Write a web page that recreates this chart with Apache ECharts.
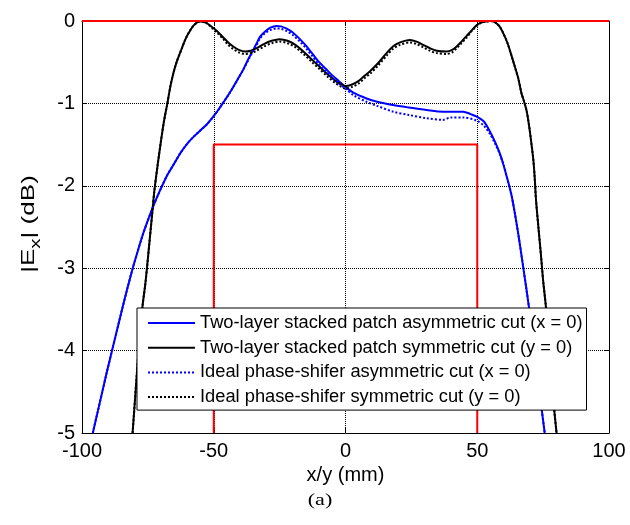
<!DOCTYPE html>
<html>
<head>
<meta charset="utf-8">
<script src="https://cdn.jsdelivr.net/npm/echarts@6/dist/echarts.min.js"></script>
<style>html,body{margin:0;padding:0;background:#fff;}#c{width:630px;height:525px;}</style>
</head>
<body>
<div id="c"></div>
<script>
// ---- data (x in mm, |Ex| in dB) ----
const legendNames = [
  'Two-layer stacked patch asymmetric cut (x = 0)',
  'Two-layer stacked patch symmetric cut (y = 0)',
  'Ideal phase-shifer asymmetric cut (x = 0)',
  'Ideal phase-shifer symmetric cut (y = 0)'
];
const xTicks = [-100, -50, 0, 50, 100];
const yTicks = [-5, -4, -3, -2, -1, 0];

const stackedAsym = [
  [-95.9,-5],[-94.1,-4.75],[-92.3,-4.5],[-90.5,-4.25],[-88.6,-4.0],[-86.7,-3.75],[-84.8,-3.5],[-82.9,-3.26],
  [-81.0,-3.03],[-79.0,-2.81],[-77.0,-2.6],[-74.9,-2.41],[-72.6,-2.22],[-70.3,-2.05],[-67.8,-1.88],[-65.2,-1.74],
  [-62.6,-1.6],[-60.1,-1.49],[-57.5,-1.4],[-54.8,-1.32],[-52.5,-1.25],[-50.4,-1.17],[-48.3,-1.08],[-46.4,-0.99],
  [-44.5,-0.9],[-42.6,-0.8],[-40.6,-0.69],[-38.8,-0.59],[-37,-0.47],[-35,-0.35],
  [-33.7,-0.27],[-32.4,-0.19],[-30.6,-0.13],[-28.5,-0.08],[-26.1,-0.06],[-24.5,-0.065],[-22.5,-0.09],[-20,-0.14],
  [-17.3,-0.22],[-15,-0.3],[-12.5,-0.4],[-10,-0.5],[-7.5,-0.58],[-5,-0.66],[-2.5,-0.73],[0,-0.8],
  [3,-0.87],[8,-0.94],[12,-0.98],[18,-1.02],[24,-1.05],[30.8,-1.08],[37,-1.1],[44.7,-1.1],
  [47.5,-1.13],[49.8,-1.16],[52.5,-1.22],[54.8,-1.34],[56.8,-1.47],[58.6,-1.61],[60,-1.75],[61.2,-1.89],
  [62.2,-2.01],[63.1,-2.13],[64.2,-2.32],[65.3,-2.53],[66.4,-2.76],[67.5,-3.0],[68.6,-3.24],[69.6,-3.47],
  [70.6,-3.72],[71.6,-3.98],[72.6,-4.24],[73.6,-4.5],[74.6,-4.75],[75.6,-5]
];
const stackedSym = [
  [-80.8,-5],[-79.9,-4.6],[-79,-4.2],[-78,-3.8],[-77,-3.45],[-76,-3.2],[-75.2,-2.95],[-74.3,-2.65],
  [-73.4,-2.35],[-72.5,-2.05],[-71.3,-1.75],[-70,-1.45],[-68.8,-1.2],[-67.6,-1.0],[-66.5,-0.8],[-65.3,-0.63],
  [-64,-0.49],[-62.2,-0.34],[-61,-0.24],[-59.6,-0.15],[-57.5,-0.05],[-55.2,-0.005],[-53,-0.02],[-50.8,-0.07],
  [-48.5,-0.13],[-46.4,-0.2],[-44.5,-0.26],[-42.6,-0.31],[-40.5,-0.35],[-38.1,-0.37],[-36,-0.36],[-33.7,-0.33],
  [-31,-0.28],[-28,-0.24],[-25,-0.22],[-22,-0.24],[-19,-0.29],[-16,-0.37],[-13,-0.46],[-10,-0.55],
  [-7,-0.64],[-4,-0.72],[-2,-0.76],[0,-0.79],[2.5,-0.77],[4.9,-0.73],[7,-0.67],[9.3,-0.61],
  [12.4,-0.51],[15.6,-0.39],[18,-0.31],[20.7,-0.26],[24.5,-0.23],[27,-0.25],[29.5,-0.29],[32,-0.33],
  [34.6,-0.36],[38.4,-0.37],[40.5,-0.35],[42.2,-0.31],[44,-0.25],[46,-0.18],[48,-0.11],[49.8,-0.05],
  [51.5,-0.02],[53.6,-0.005],[55,0],[56.5,-0.01],[58.3,-0.06],[59.9,-0.15],[61.5,-0.27],[63,-0.42],
  [64.5,-0.58],[65.6,-0.7],[66.8,-0.88],[67.8,-0.98],[68.8,-1.1],[69.8,-1.3],[70.6,-1.5],[71.3,-1.69],
  [71.8,-1.9],[72.3,-2.17],[73.2,-2.5],[74.2,-2.85],[75,-3.15],[76,-3.45],[77,-3.85],[78,-4.25],
  [79,-4.65],[80.1,-5]
];
const idealAsym = [
  [-95.9,-5],[-94.1,-4.75],[-92.3,-4.5],[-90.5,-4.25],[-88.6,-4.0],[-86.7,-3.75],[-84.8,-3.5],[-82.9,-3.26],
  [-81.0,-3.03],[-79.0,-2.81],[-77.0,-2.6],[-74.9,-2.41],[-72.6,-2.22],[-70.3,-2.05],[-67.8,-1.88],[-65.2,-1.74],
  [-62.6,-1.6],[-60.1,-1.49],[-57.5,-1.4],[-54.8,-1.32],[-52.5,-1.25],[-50.4,-1.17],[-48.3,-1.08],[-46.4,-0.99],
  [-44.5,-0.9],[-42.6,-0.8],[-40.6,-0.69],[-38.8,-0.59],[-37,-0.48],[-35,-0.36],
  [-33.7,-0.29],[-32.4,-0.21],[-30.6,-0.15],[-28.5,-0.11],[-26.1,-0.09],[-24.5,-0.095],[-22.5,-0.12],[-20,-0.17],
  [-17.3,-0.25],[-15,-0.33],[-12.5,-0.43],[-10,-0.53],[-7.5,-0.61],[-5,-0.69],[-2.5,-0.76],[0,-0.82],
  [3,-0.9],[8,-0.98],[12,-1.03],[18,-1.1],[24,-1.14],[30.8,-1.18],[37,-1.2],[40,-1.17],
  [44.7,-1.17],[49.8,-1.21],[52.5,-1.27],[54.8,-1.37],[56.8,-1.49],[58.6,-1.62],[60,-1.75],[61.2,-1.89],
  [62.2,-2.01],[63.1,-2.13],[64.2,-2.32],[65.3,-2.53],[66.4,-2.76],[67.5,-3.0],[68.6,-3.24],[69.6,-3.47],
  [70.6,-3.72],[71.6,-3.98],[72.6,-4.24],[73.6,-4.5],[74.6,-4.75],[75.6,-5]
];
const idealSym = [
  [-80.8,-5],[-79.9,-4.6],[-79,-4.2],[-78,-3.8],[-77,-3.45],[-76,-3.2],[-75.2,-2.95],[-74.3,-2.65],
  [-73.4,-2.35],[-72.5,-2.05],[-71.3,-1.75],[-70,-1.45],[-68.8,-1.2],[-67.6,-1.0],[-66.5,-0.8],[-65.3,-0.63],
  [-64,-0.49],[-62.2,-0.34],[-61,-0.24],[-59.6,-0.15],[-57.5,-0.05],[-55.2,-0.005],[-53,-0.02],[-50.8,-0.08],
  [-48.5,-0.15],[-46.4,-0.22],[-44.5,-0.29],[-42.6,-0.34],[-40.5,-0.38],[-38.1,-0.4],[-36,-0.39],[-33.7,-0.36],
  [-31,-0.31],[-28,-0.27],[-25,-0.25],[-22,-0.27],[-19,-0.32],[-16,-0.4],[-13,-0.49],[-10,-0.58],
  [-7,-0.67],[-4,-0.75],[-2,-0.79],[0,-0.82],[2.5,-0.8],[4.9,-0.76],[7,-0.7],[9.3,-0.64],
  [12.4,-0.54],[15.6,-0.42],[18,-0.34],[20.7,-0.29],[24.5,-0.26],[27,-0.28],[29.5,-0.32],[32,-0.36],
  [34.6,-0.39],[38.4,-0.4],[40.5,-0.38],[42.2,-0.33],[44,-0.27],[46,-0.2],[48,-0.12],[49.8,-0.06],
  [51.5,-0.02],[53.6,-0.005],[55,0],[56.5,-0.01],[58.3,-0.06],[59.9,-0.15],[61.5,-0.27],[63,-0.42],
  [64.5,-0.58],[65.6,-0.7],[66.8,-0.88],[67.8,-0.98],[68.8,-1.1],[69.8,-1.3],[70.6,-1.5],[71.3,-1.69],
  [71.8,-1.9],[72.3,-2.17],[73.2,-2.5],[74.2,-2.85],[75,-3.15],[76,-3.45],[77,-3.85],[78,-4.25],
  [79,-4.65],[80.1,-5]
];
const maskUpper = [[-100,0],[100,0]];
const maskLower = [[-50,-5],[-50,-1.5],[50,-1.5],[50,-5]];

// ---- chart ----
const FONT = 'Arial, "Liberation Sans", sans-serif';
const chart = echarts.init(document.getElementById('c'), null, {renderer: 'canvas'});

function axisBase(pos, show) {
  return {
    type: 'value', position: pos,
    axisLine: {show: true, onZero: false, lineStyle: {color: '#000', width: 1}},
    axisTick: {show: true, inside: true, length: 5, lineStyle: {color: '#000'}},
    axisLabel: {show: show, color: '#000', fontFamily: FONT, fontSize: 20},
    splitLine: {show: show, lineStyle: {color: '#000', type: 'dotted', width: 1}}
  };
}
const xAx0 = Object.assign(axisBase('bottom', true), {min: xTicks[0], max: xTicks[xTicks.length-1], interval: 50,
  name: 'x/y (mm)', nameLocation: 'middle', nameGap: 27,
  nameTextStyle: {color: '#000', fontFamily: FONT, fontSize: 20}});
xAx0.axisLabel.margin = 8;
const xAx1 = Object.assign(axisBase('top', false), {min: -100, max: 100, interval: 50});
const yAx0 = Object.assign(axisBase('left', true), {min: yTicks[0], max: yTicks[yTicks.length-1], interval: 1});
yAx0.axisLabel.margin = 7;
const yAx1 = Object.assign(axisBase('right', false), {min: -5, max: 0, interval: 1});

function lineSeries(name, data, color, type, z) {
  return {name: name, type: 'line', data: data, showSymbol: false, symbol: 'none',
    smooth: 0.3, z: z, animation: false,
    lineStyle: {color: color, width: 2, type: type}, itemStyle: {color: color}};
}

chart.setOption({
  animation: false,
  grid: {left: 82, right: 21, top: 21, bottom: 92, containLabel: false},
  xAxis: [xAx0, xAx1],
  yAxis: [yAx0, yAx1],
  legend: {
    data: legendNames, orient: 'vertical', left: 137, top: 308,
    padding: [5, 4, 3, 10], itemGap: 4.7, itemWidth: 47, itemHeight: 14,
    backgroundColor: '#fff', borderColor: '#000', borderWidth: 1, borderRadius: 0, z: 20,
    itemStyle: {color: 'rgba(0,0,0,0)', borderWidth: 0, opacity: 0},
    textStyle: {color: '#000', fontFamily: FONT, fontSize: 18.3, lineHeight: 20},
    selectedMode: false
  },
  graphic: [
    {type: 'text', x: 29, y: 224, rotation: Math.PI / 2, scaleX: 1.45, z: 100,
      style: {text: '{n||E}{s|x}{n|| (dB)}', align: 'center', verticalAlign: 'middle', fill: '#000',
        rich: {n: {fontFamily: FONT, fontSize: 18, lineHeight: 28, verticalAlign: 'middle', fill: '#000'},
               s: {fontFamily: FONT, fontSize: 14, lineHeight: 14, verticalAlign: 'bottom', fill: '#000'}}}},
    {type: 'text', x: 320, y: 501, scaleX: 1.3, z: 100,
      style: {text: '(a)', align: 'center', verticalAlign: 'middle', fill: '#000',
        fontFamily: '"Liberation Serif", "Times New Roman", serif', fontSize: 17}}
  ],
  series: [
    lineSeries(legendNames[0], stackedAsym, '#0000ff', 'solid', 3),
    lineSeries(legendNames[1], stackedSym, '#000000', 'solid', 3),
    lineSeries(legendNames[2], idealAsym, '#0000ff', 'dotted', 4),
    lineSeries(legendNames[3], idealSym, '#000000', 'dotted', 4),
    {name: 'maskUpper', type: 'line', data: maskUpper, symbol: 'none', z: 5, animation: false,
      lineStyle: {color: '#ff0000', width: 2}, clip: false},
    {name: 'maskLower', type: 'line', data: maskLower, symbol: 'none', z: 5, animation: false,
      lineStyle: {color: '#ff0000', width: 2}}
  ]
});
</script>
</body>
</html>
